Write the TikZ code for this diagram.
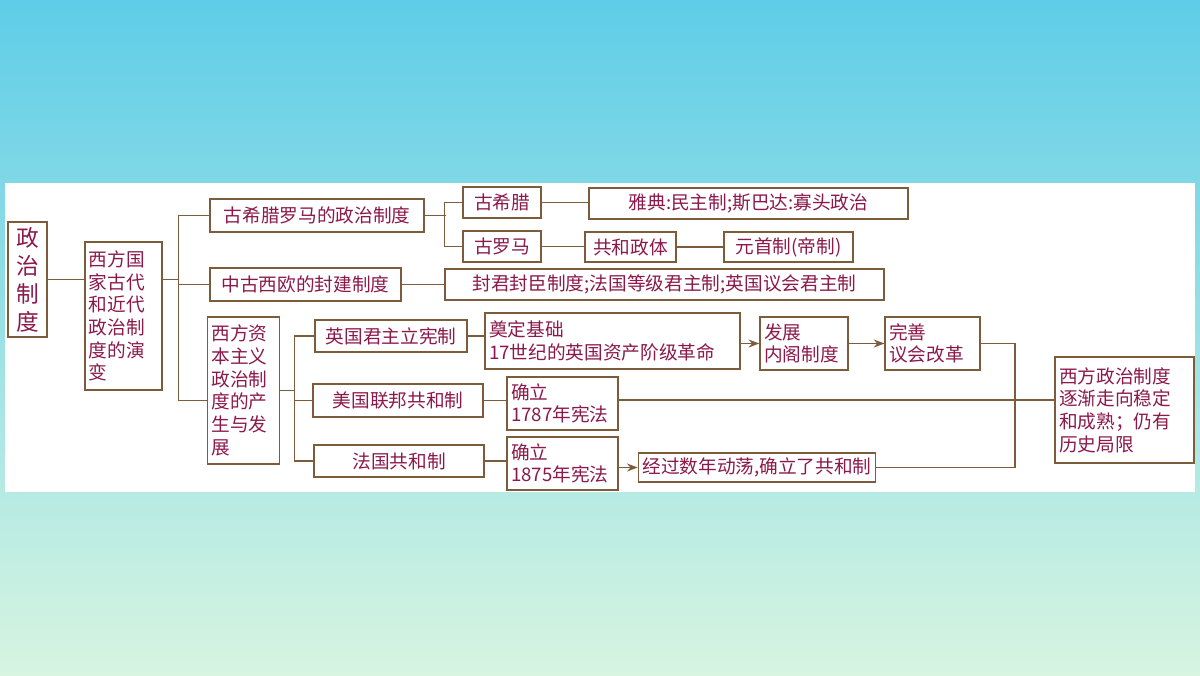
\documentclass[tikz,border=0pt]{standalone}
\usepackage{fontspec}
\setmainfont{Noto Sans CJK SC}
\usetikzlibrary{arrows.meta}
\definecolor{txt}{RGB}{140,25,75}
\definecolor{brd}{RGB}{125,92,60}
\tikzset{
  box/.style={draw=brd, line width=1.1pt, text=txt, inner sep=3pt, font=\fontsize{14}{17}\selectfont},
  link/.style={draw=brd, line width=1.1pt},
  arr/.style={link, -{Stealth[length=8pt,width=6pt]}}
}
\begin{document}
\begin{tikzpicture}[x=0.75pt,y=0.75pt,yscale=-1,xscale=1]
% background
\shade [top color={rgb,255:red,95;green,205;blue,232}, bottom color={rgb,255:red,215;green,245;blue,225}] (0,0) rectangle (1200,675);
\fill [white] (5,183) rectangle (1195,492);
\useasboundingbox (0,0) rectangle (1200,675);

% Boxes
\node [box, minimum width=39pt*0.75, minimum height=115pt*0.75, align=center, font=\fontsize{17}{21}\selectfont] (root) at (27.5,279.5) {政\\治\\制\\度};
\node [box, minimum height=148pt*0.75, text width=52pt, align=left] (evo) at (123.5,316) {西方国\\家古代\\和近代\\政治制\\度的演\\变};
\node [box, minimum width=214pt*0.75, minimum height=33pt*0.75] (greeceRome) at (317,215.5) {古希腊罗马的政治制度};
\node [box, minimum width=191pt*0.75, minimum height=33pt*0.75] (feudal) at (305.5,284.5) {中古西欧的封建制度};
\node [box, minimum height=147pt*0.75, text width=48pt, align=left] (capital) at (243.5,390.5) {西方资\\本主义\\政治制\\度的产\\生与发\\展};
\node [box, minimum width=78pt*0.75, minimum height=31pt*0.75] (greece) at (502,202.5) {古希腊};
\node [box, minimum width=78pt*0.75, minimum height=31pt*0.75] (rome) at (502,246.5) {古罗马};
\node [box, minimum width=319pt*0.75, minimum height=31pt*0.75] (athens) at (748.5,203.5) {雅典:民主制;斯巴达:寡头政治};
\node [box, minimum width=91pt*0.75, minimum height=30pt*0.75] (republic) at (630.5,247) {共和政体};
\node [box, minimum width=129pt*0.75, minimum height=30pt*0.75] (princeps) at (788.5,247) {元首制(帝制)};
\node [box, minimum width=439pt*0.75, minimum height=31pt*0.75] (vassal) at (664.5,284.5) {封君封臣制度;法国等级君主制;英国议会君主制};
\node [box, minimum width=152pt*0.75, minimum height=32pt*0.75] (uk) at (391,336) {英国君主立宪制};
\node [box, minimum width=170pt*0.75, minimum height=33pt*0.75] (us) at (398,400.5) {美国联邦共和制};
\node [box, minimum width=170pt*0.75, minimum height=32pt*0.75] (fr) at (399,461) {法国共和制};
\node [box, minimum height=56pt*0.75, text width=185pt, align=left] (ukBase) at (612.5,341) {奠定基础\\17世纪的英国资产阶级革命};
\node [box, minimum height=53pt*0.75, text width=60pt, align=left] (ukDev) at (804,343.5) {发展\\内阁制度};
\node [box, minimum height=53pt*0.75, text width=65pt, align=left] (ukPerf) at (932.5,343.5) {完善\\议会改革};
\node [box, minimum height=53pt*0.75, text width=77pt, align=left] (us1787) at (562.5,403.5) {确立\\1787年宪法};
\node [box, minimum height=53pt*0.75, text width=77pt, align=left] (fr1875) at (562.5,463.5) {确立\\1875年宪法};
\node [box, minimum width=234pt*0.75, minimum height=29pt*0.75] (frRep) at (757,467.5) {经过数年动荡,确立了共和制};
\node [box, minimum height=106pt*0.75, text width=98pt, align=left] (result) at (1124.5,410) {西方政治制度\\逐渐走向稳定\\和成熟；仍有\\历史局限};

% Connectors
\draw [link] (root.east) -- (root.east -| evo.west);
\draw [link] (evo.east |- root.east) -- ++(16,0);
\draw [link] (greeceRome.west) -- ++(-31,0) |- ([yshift=7.5pt]capital.west);
\draw [link] (feudal.west) -- ++(-31,0);
\draw [link] (greeceRome.east) -- ++(21,0);
\draw [link] (greece.west) -- ++(-18,0) |- (rome.west);
\draw [link] (greece.east) -- (greece.east -| athens.west);
\draw [link] (rome.east) -- (rome.east -| republic.west);
\draw [link] (republic.east) -- (republic.east -| princeps.west);
\draw [link] (feudal.east) -- (feudal.east -| vassal.west);
\draw [link] (capital.east) -- ++(15,0);
\draw [link] (uk.west) -- ++(-20,0) |- (fr.west);
\draw [link] (us.west) -- ++(-18,0);
\draw [link] (uk.east) -- (ukBase.west |- uk.east);
\draw [arr] (ukBase.east |- ukDev.west) -- (ukDev.west);
\draw [arr] (ukDev.east) -- (ukPerf.west);
\draw [link] (us.east) -- (us1787.west |- us.east);
\draw [link] (fr.east) -- (fr1875.west |- fr.east);
\draw [arr] (fr1875.east |- frRep.west) -- (frRep.west);
\draw [link] (ukPerf.east) -- ++(34.5,0) coordinate (join) |- (frRep.east);
\draw [link] (us1787.east |- 0,400) -- (result.west |- 0,400);
\end{tikzpicture}
\end{document}
